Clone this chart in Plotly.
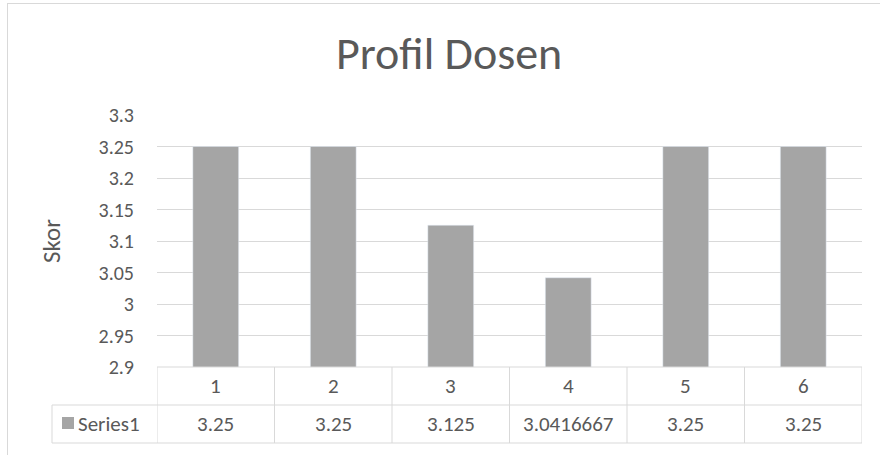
import plotly.graph_objects as go

categories = [1, 2, 3, 4, 5, 6]
values = [3.25, 3.25, 3.125, 3.0416667, 3.25, 3.25]
y_ticks = [2.9, 2.95, 3.0, 3.05, 3.1, 3.15, 3.2, 3.25, 3.3]
y_tick_labels = ["2.9", "2.95", "3", "3.05", "3.1", "3.15", "3.2", "3.25", "3.3"]
series_name = "Series1"
title = "Profil Dosen"
y_title = "Skor"

FONT = "Carlito, Calibri, Lato, sans-serif"
TXT = "#595959"
GRID = "#d9d9d9"
BAR = "#a5a5a5"

W, H = 880, 455
L, R, T, B = 157, 18, 115, 88
PH = H - T - B
PW = W - L - R


def py(pix):
    return (H - B - pix) / PH


def px(pix):
    return (pix - L) / PW


fig = go.Figure()
fig.add_trace(go.Bar(x=categories, y=values, marker_color=BAR, width=0.39,
                     name=series_name, showlegend=False, hoverinfo="skip"))

shapes = []
annotations = []
line = dict(color=GRID, width=1)
# chart border (top and left)
shapes.append(dict(type="line", xref="paper", yref="paper", x0=px(7), x1=px(W), y0=py(3.5), y1=py(3.5), line=line))
shapes.append(dict(type="line", xref="paper", yref="paper", x0=px(7.5), x1=px(7.5), y0=py(3.5), y1=py(H), line=line))

# data table
row1_top, row1_bot, row2_bot = 367, 405, 443
for i in range(len(categories) + 1):
    xb = categories[0] - 0.5 + i
    shapes.append(dict(type="line", xref="x", yref="paper", x0=xb, x1=xb,
                       y0=py(row1_top), y1=py(row2_bot), line=line))
shapes.append(dict(type="line", xref="paper", yref="paper", x0=px(52), x1=1,
                   y0=py(row1_bot), y1=py(row1_bot), line=line))
shapes.append(dict(type="line", xref="paper", yref="paper", x0=px(52), x1=1,
                   y0=py(row2_bot), y1=py(row2_bot), line=line))
shapes.append(dict(type="line", xref="paper", yref="paper", x0=px(52), x1=px(52),
                   y0=py(row1_bot), y1=py(row2_bot), line=line))
shapes.append(dict(type="line", xref="paper", yref="paper", x0=0, x1=1,
                   y0=0, y1=0, line=line))
# legend key
shapes.append(dict(type="rect", xref="paper", yref="paper", x0=px(62), x1=px(74),
                   y0=py(429), y1=py(417), fillcolor=BAR, line=dict(width=0)))

tf = dict(family=FONT, size=21, color=TXT)
for c, v in zip(categories, values):
    annotations.append(dict(x=c, y=py((row1_top + row1_bot) / 2), xref="x", yref="paper",
                            xanchor="center", yanchor="middle",
                            text=str(c), showarrow=False, font=tf))
    annotations.append(dict(x=c, y=py((row1_bot + row2_bot) / 2), xref="x", yref="paper",
                            xanchor="center", yanchor="middle",
                            text=f"{v:.8g}", showarrow=False, font=tf))
annotations.append(dict(x=px(76), y=py((row1_bot + row2_bot) / 2), xref="paper", yref="paper",
                        xanchor="left", yanchor="middle", text=series_name, showarrow=False,
                        font=tf))
annotations.append(dict(x=px(449), y=py(53), xref="paper", yref="paper",
                        xanchor="center", yanchor="middle",
                        text=title, showarrow=False, font=dict(family=FONT, size=46, color=TXT)))
annotations.append(dict(x=px(51), y=py(241), xref="paper", yref="paper", textangle=-90,
                        xanchor="center", yanchor="middle",
                        text=y_title, showarrow=False, font=dict(family=FONT, size=25, color=TXT)))

fig.update_layout(
    width=W, height=H,
    margin=dict(l=L, r=R, t=T, b=B),
    paper_bgcolor="white", plot_bgcolor="white",
    shapes=shapes, annotations=annotations,
    xaxis=dict(range=[0.5, 6.5], showticklabels=False, showgrid=False, zeroline=False,
               ticks="", showline=False, fixedrange=True),
    yaxis=dict(range=[2.9, 3.3], tickvals=y_ticks, ticktext=y_tick_labels,
               showgrid=True, gridcolor=GRID, gridwidth=1, zeroline=False,
               tickfont=dict(family=FONT, size=20, color=TXT), ticks="",
               ticklabelstandoff=22, fixedrange=True),
    bargap=0.61,
    showlegend=False,
)

fig.write_html("out.html", config={"displayModeBar": False},
               post_script="document.body.style.margin='0';")
